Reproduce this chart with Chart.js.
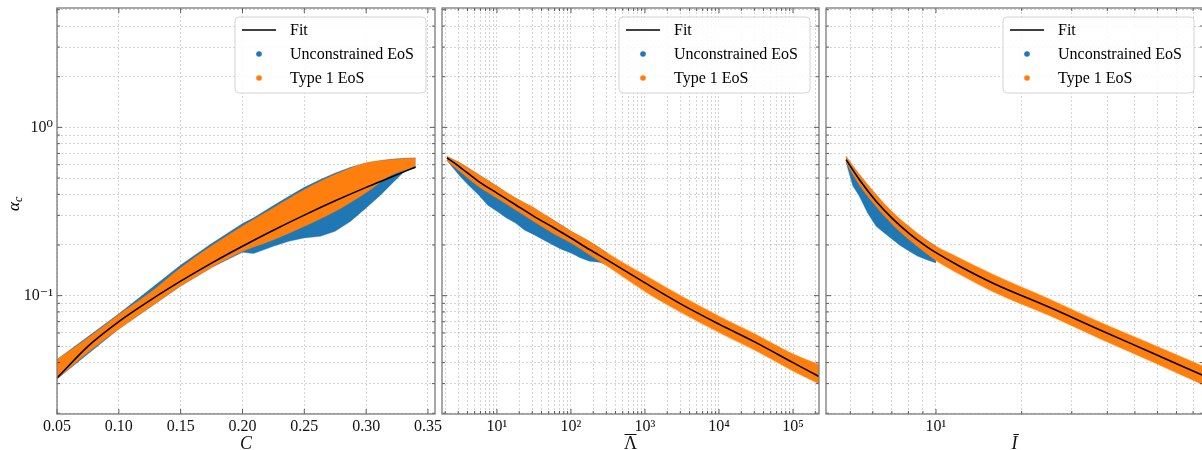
<!DOCTYPE html>
<html><head><meta charset="utf-8">
<script src="https://cdn.jsdelivr.net/npm/chart.js@4/dist/chart.umd.min.js"></script>
<style>
html,body{margin:0;padding:0;background:#fff;overflow:hidden;width:1202px;height:450px;position:relative;}
.panel{position:absolute;top:0;height:450px;}
canvas{display:block;}
</style></head><body>
<div class="panel" style="left:0px;width:442px"><canvas id="c1" width="442" height="450"></canvas></div>
<div class="panel" style="left:436px;width:389px"><canvas id="c2" width="389" height="450"></canvas></div>
<div class="panel" style="left:820px;width:400px"><canvas id="c3" width="400" height="450"></canvas></div>
<script>
// ---------------- DATA ----------------
// Panel 1: alpha_c vs compactness C
const compactness   = [0.05, 0.075, 0.10, 0.125, 0.15, 0.175, 0.20, 0.225, 0.25, 0.275, 0.30, 0.32, 0.34];
const fitAlphaC     = [0.0324, 0.0500, 0.0701, 0.0935, 0.1219, 0.1561, 0.1966, 0.2446, 0.3009, 0.3660, 0.4399, 0.5052, 0.5820];
const type1UpperC   = [0.0417, 0.0560, 0.0771, 0.1037, 0.146, 0.197, 0.258, 0.332, 0.426, 0.524, 0.614, 0.643, 0.658];
const type1LowerC   = [0.0320, 0.0461, 0.0634, 0.0852, 0.1140, 0.1470, 0.1834, 0.2151, 0.2582, 0.317, 0.41, 0.52, 0.582];
const unconC        = [0.05, 0.10, 0.15, 0.175, 0.20, 0.209, 0.225, 0.2375, 0.25, 0.263, 0.275, 0.2875, 0.30, 0.312, 0.32, 0.331, 0.34];
const unconUpperC   = [0.0417, 0.078, 0.152, 0.204, 0.268, 0.29, 0.343, 0.39, 0.44, 0.49, 0.535, 0.58, 0.614, 0.635, 0.646, 0.655, 0.658];
const unconLowerC   = [0.032, 0.0634, 0.1140, 0.1470, 0.1809, 0.1777, 0.1964, 0.2103, 0.2202, 0.2252, 0.2411, 0.2764, 0.3318, 0.398, 0.4565, 0.548, 0.5737];

// Panel 2: alpha_c vs tidal deformability Lambda-bar
const lambdaBar         = [2.11, 3.16, 5.62, 10, 17.8, 31.6, 56.2, 100, 178, 316, 1000, 3162, 10000, 31623, 100000, 224000];
const fitAlphaLambda    = [0.658, 0.581, 0.478, 0.407, 0.347, 0.296, 0.256, 0.220, 0.188, 0.162, 0.119, 0.0884, 0.0677, 0.0526, 0.0400, 0.0331];
const type1UpperLambda  = [0.673, 0.614, 0.524, 0.446, 0.380, 0.332, 0.283, 0.241, 0.210, 0.178, 0.132, 0.099, 0.0755, 0.0588, 0.0450, 0.0390];
const type1LowerLambda  = [0.637, 0.548, 0.446, 0.380, 0.324, 0.276, 0.236, 0.206, 0.175, 0.149, 0.106, 0.079, 0.0605, 0.0470, 0.0357, 0.0300];
const unconLambda       = [2.11, 3.16, 4.2, 5.62, 7.5, 10, 13.3, 17.8, 23.7, 31.6, 42, 56.2, 75, 100, 133, 178, 240, 316];
const unconUpperLambda  = [0.673, 0.614, 0.57, 0.524, 0.485, 0.446, 0.41, 0.380, 0.355, 0.332, 0.305, 0.283, 0.262, 0.241, 0.225, 0.210, 0.193, 0.178];
const unconLowerLambda  = [0.637, 0.512, 0.45, 0.398, 0.345, 0.317, 0.290, 0.270, 0.245, 0.2304, 0.215, 0.2009, 0.188, 0.1793, 0.168, 0.160, 0.158, 0.152];

// Panel 3: alpha_c vs moment of inertia I-bar
const iBar          = [4.83, 5.38, 6.16, 7.05, 8.06, 9.22, 10, 12.07, 15.8, 25.15, 37.7, 56.5, 87];
const fitAlphaI     = [0.643, 0.490, 0.364, 0.286, 0.234, 0.197, 0.180, 0.150, 0.119, 0.085, 0.0625, 0.0463, 0.0335];
const type1UpperI   = [0.672, 0.524, 0.398, 0.312, 0.256, 0.2151, 0.1964, 0.1674, 0.134, 0.095, 0.0695, 0.052, 0.038];
const type1LowerI   = [0.620, 0.4565, 0.3396, 0.264, 0.2151, 0.1793, 0.162, 0.1345, 0.106, 0.076, 0.0555, 0.041, 0.0295];
const unconI        = [4.83, 5.1, 5.38, 5.75, 6.16, 6.6, 7.05, 7.5, 8.06, 8.6, 9.22, 10];
const unconUpperI   = [0.672, 0.59, 0.524, 0.455, 0.398, 0.345, 0.312, 0.28, 0.256, 0.232, 0.2151, 0.1964];
const unconLowerI   = [0.620, 0.45, 0.389, 0.31, 0.258, 0.235, 0.2151, 0.198, 0.1834, 0.172, 0.1637, 0.1563];

// Tick values
const yTickValues   = [0.02,0.03,0.04,0.05,0.06,0.07,0.08,0.09,0.1,0.2,0.3,0.4,0.5,0.6,0.7,0.8,0.9,1,2,3,4,5];
const cTickValues   = [0.05,0.10,0.15,0.20,0.25,0.30,0.35];
const lambdaTickValues = [2,3,4,5,6,7,8,9,10,20,30,40,50,60,70,80,90,100,200,300,400,500,600,700,800,900,
  1000,2000,3000,4000,5000,6000,7000,8000,9000,10000,20000,30000,40000,50000,60000,70000,80000,90000,100000,200000];
const iTickValues   = [5,6,7,8,9,10,20,30,40,50,60,70,80];

const legendLabels = ['Fit', 'Unconstrained EoS', 'Type 1 EoS'];
const axisTitles = ['C', 'Λ', 'Ī'];

// ---------------- STYLE ----------------
const FONT = "'Liberation Serif','DejaVu Serif',serif";
const BLUE = '#1f77b4', ORANGE = '#ff7f0e';
const SUP = {'-':'⁻','0':'⁰','1':'¹','2':'²','3':'³','4':'⁴','5':'⁵','6':'⁶','7':'⁷','8':'⁸','9':'⁹'};
function isPow10(v){ const e = Math.round(Math.log10(v)); return Math.abs(v - Math.pow(10,e)) / v < 1e-9; }
function pow10Label(v){
  if (!isPow10(v)) return '';
  const e = Math.round(Math.log10(v));
  return '10' + String(e).split('').map(c => SUP[c]).join('');
}
function pts(xs, ys){ return xs.map((x,i) => ({x: x, y: ys[i]})); }

const frameTicks = {
  id: 'frameTicks',
  afterDraw(chart, args, opts){
    const {ctx, chartArea: a} = chart;
    const xs = chart.scales.x, ys = chart.scales.y;
    ctx.save();
    ctx.strokeStyle = '#333';
    ctx.lineWidth = 0.8;
    ctx.beginPath();
    xs.ticks.forEach(t => {
      const px = xs.getPixelForValue(t.value);
      if (px < a.left - 0.5 || px > a.right + 0.5) return;
      const len = (opts.xLog ? (isPow10(t.value) ? 5 : 3) : 5);
      ctx.moveTo(px, a.bottom); ctx.lineTo(px, a.bottom - len);
      ctx.moveTo(px, a.top); ctx.lineTo(px, a.top + len);
    });
    ys.ticks.forEach(t => {
      const py = ys.getPixelForValue(t.value);
      if (py < a.top - 0.5 || py > a.bottom + 0.5) return;
      const len = isPow10(t.value) ? 5 : 3;
      ctx.moveTo(a.left, py); ctx.lineTo(a.left + len, py);
      ctx.moveTo(a.right, py); ctx.lineTo(a.right - len, py);
    });
    ctx.stroke();
    ctx.strokeStyle = '#7a7a7a';
    ctx.lineWidth = 1.3;
    ctx.strokeRect(a.left, a.top, a.right - a.left, a.bottom - a.top);

    // overline for the Lambda-bar axis title
    if (opts.overline) {
      const cx = (a.left + a.right) / 2;
      ctx.beginPath(); ctx.moveTo(cx - 6, 434.5); ctx.lineTo(cx + 6, 434.5);
      ctx.strokeStyle = '#111'; ctx.lineWidth = 1; ctx.stroke();
    }

    // legend
    const w = 191, h = 76, lx = a.right - 9 - w, ly = a.top + 9, r = 4;
    ctx.beginPath();
    ctx.moveTo(lx + r, ly); ctx.lineTo(lx + w - r, ly); ctx.arcTo(lx + w, ly, lx + w, ly + r, r);
    ctx.lineTo(lx + w, ly + h - r); ctx.arcTo(lx + w, ly + h, lx + w - r, ly + h, r);
    ctx.lineTo(lx + r, ly + h); ctx.arcTo(lx, ly + h, lx, ly + h - r, r);
    ctx.lineTo(lx, ly + r); ctx.arcTo(lx, ly, lx + r, ly, r); ctx.closePath();
    ctx.fillStyle = 'rgba(255,255,255,0.85)'; ctx.fill();
    ctx.strokeStyle = '#d4d4d4'; ctx.lineWidth = 1; ctx.stroke();
    ctx.font = '16px ' + FONT; ctx.textBaseline = 'middle'; ctx.textAlign = 'left'; ctx.fillStyle = '#000';
    legendLabels.forEach((lab, i) => {
      const cy = ly + 13 + i * 24;
      if (i === 0) {
        ctx.beginPath(); ctx.moveTo(lx + 7, cy); ctx.lineTo(lx + 41, cy);
        ctx.strokeStyle = '#000'; ctx.lineWidth = 1.6; ctx.stroke();
      } else {
        ctx.beginPath(); ctx.arc(lx + 24, cy, 2.8, 0, Math.PI * 2);
        ctx.fillStyle = i === 1 ? BLUE : ORANGE; ctx.fill();
      }
      ctx.fillStyle = '#000';
      ctx.fillText(lab, lx + 55, cy + 1);
    });

    // y-axis title alpha_c (only panel 1)
    if (opts.yTitle) {
      ctx.save();
      ctx.translate(15, 204);
      ctx.rotate(-Math.PI / 2);
      ctx.textBaseline = 'middle'; ctx.textAlign = 'left';
      ctx.font = 'italic 17px ' + FONT;
      const wA = ctx.measureText('α').width;
      ctx.fillText('α', -(wA + 5) / 2, 0);
      ctx.font = 'italic 12px ' + FONT;
      ctx.fillText('c', -(wA + 5) / 2 + wA, 4);
      ctx.restore();
    }
    ctx.restore();
  }
};

const GRID = '#c9c9c9';

function makeChart(id, o){
  const xLog = o.xType === 'logarithmic';
  return new Chart(document.getElementById(id), {
    type: 'line',
    data: { datasets: [
      { label: legendLabels[1] + ' upper', data: pts(o.bx, o.bUp), fill: {target: 1}, backgroundColor: BLUE,
        borderColor: 'rgba(31,119,180,0.35)', borderWidth: 1, pointRadius: 0, order: 3, tension: 0 },
      { label: legendLabels[1], data: pts(o.bx, o.bLo), fill: false, borderColor: 'rgba(31,119,180,0.35)', borderWidth: 1,
        pointRadius: 0, order: 3, tension: 0 },
      { label: legendLabels[2] + ' upper', data: pts(o.ox, o.oUp), fill: {target: 3}, backgroundColor: ORANGE,
        borderColor: 'rgba(255,127,14,0.45)', borderWidth: 1.2, pointRadius: 0, order: 2, cubicInterpolationMode: 'monotone' },
      { label: legendLabels[2], data: pts(o.ox, o.oLo), fill: false, borderColor: 'rgba(255,127,14,0.45)', borderWidth: 1.2,
        pointRadius: 0, order: 2, cubicInterpolationMode: 'monotone' },
      { label: legendLabels[0], data: pts(o.fx, o.fy), fill: false, borderColor: '#000', borderWidth: 1.6,
        pointRadius: 0, order: 0, cubicInterpolationMode: 'monotone' }
    ]},
    options: {
      responsive: false, animation: false, events: [],
      layout: { padding: { top: 8, right: o.padRight, left: 0, bottom: 0 } },
      plugins: { legend: { display: false }, tooltip: { enabled: false },
                 frameTicks: { xLog: xLog, yTitle: o.yTitle, overline: o.overline } },
      scales: {
        x: {
          type: o.xType, min: o.xMin, max: o.xMax,
          afterBuildTicks: s => { s.ticks = o.xTicks.map(v => ({ value: v })); },
          afterFit: s => { s.height = 36; s.paddingLeft = 0; s.paddingRight = 0; },
          ticks: { autoSkip: false, maxRotation: 0, padding: 3, color: '#111',
                   font: { family: FONT, size: 16 }, callback: o.xLabel },
          grid: { color: GRID, lineWidth: 0.8, drawTicks: false, borderDash: [2, 2] },
          border: { display: false, dash: [2, 2] },
          title: { display: true, text: o.xTitle, color: '#111', padding: { top: 0, bottom: 0 },
                   font: { family: FONT, size: 18, style: o.xTitleItalic ? 'italic' : 'normal', lineHeight: 0.62 } }
        },
        y: {
          type: 'logarithmic', min: 0.0198, max: 5.12,
          afterBuildTicks: s => { s.ticks = yTickValues.map(v => ({ value: v })); },
          afterFit: s => { s.width = o.yWidth; s.paddingTop = 0; s.paddingBottom = 0; },
          ticks: { display: o.yLabels, autoSkip: false, padding: 4, color: '#111',
                   font: { family: FONT, size: 16 }, callback: v => pow10Label(v) },
          grid: { color: GRID, lineWidth: 0.8, drawTicks: false, borderDash: [2, 2] },
          border: { display: false, dash: [2, 2] }
        }
      }
    },
    plugins: [frameTicks]
  });
}

makeChart('c1', {
  xType: 'linear', xMin: 0.05, xMax: 0.3557, xTicks: cTickValues, xLabel: v => Number(v).toFixed(2),
  xTitle: axisTitles[0], xTitleItalic: true, yWidth: 57, yLabels: true, yTitle: true, overline: false, padRight: 7,
  fx: compactness, fy: fitAlphaC, ox: compactness, oUp: type1UpperC, oLo: type1LowerC,
  bx: unconC, bUp: unconUpperC, bLo: unconLowerC
});
makeChart('c2', {
  xType: 'logarithmic', xMin: 1.81, xMax: 224400, xTicks: lambdaTickValues, xLabel: v => pow10Label(v),
  xTitle: axisTitles[1], xTitleItalic: false, yWidth: 6, yLabels: false, yTitle: false, overline: true, padRight: 6,
  fx: lambdaBar, fy: fitAlphaLambda, ox: lambdaBar, oUp: type1UpperLambda, oLo: type1LowerLambda,
  bx: unconLambda, bUp: unconUpperLambda, bLo: unconLowerLambda
});
makeChart('c3', {
  xType: 'logarithmic', xMin: 4.108, xMax: 86.7, xTicks: iTickValues, xLabel: v => pow10Label(v),
  xTitle: axisTitles[2], xTitleItalic: true, yWidth: 6, yLabels: false, yTitle: false, overline: false, padRight: 17,
  fx: iBar, fy: fitAlphaI, ox: iBar, oUp: type1UpperI, oLo: type1LowerI,
  bx: unconI, bUp: unconUpperI, bLo: unconLowerI
});
</script>
</body></html>
